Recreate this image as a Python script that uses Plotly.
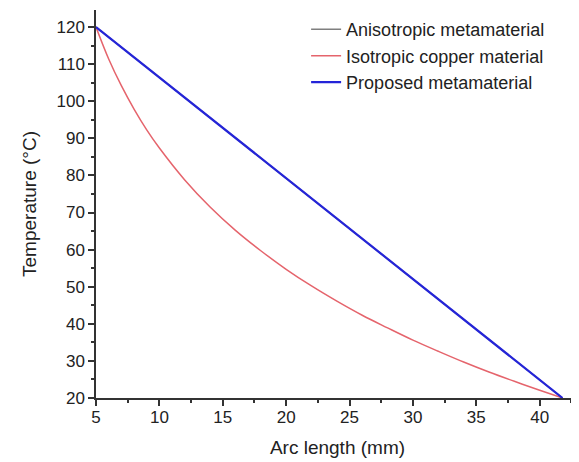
import plotly.graph_objects as go

# Data
aniso_x = [5, 41.8]
aniso_y = [120, 20]

copper_x = [5, 6, 7, 8, 9, 10, 12, 14, 16, 18, 20, 22, 24, 26, 28, 30, 32, 34, 36, 38, 40, 41.8]
copper_y = [120, 111.4, 104.2, 97.9, 92.3, 87.4, 78.8, 71.5, 65.2, 59.7, 54.7, 50.2, 46.1, 42.3, 38.9, 35.6, 32.6, 29.7, 27.0, 24.5, 22.1, 20]

proposed_x = [5, 41.8]
proposed_y = [120, 20]

x_ticks = [5, 10, 15, 20, 25, 30, 35, 40]
y_ticks = [20, 30, 40, 50, 60, 70, 80, 90, 100, 110, 120]

FONT = "Liberation Sans, Arial, sans-serif"

fig = go.Figure()
fig.add_trace(go.Scatter(x=aniso_x, y=aniso_y, mode="lines", name="Anisotropic metamaterial",
                         line=dict(color="#7f7f7f", width=1.5)))
fig.add_trace(go.Scatter(x=copper_x, y=copper_y, mode="lines", name="Isotropic copper material",
                         line=dict(color="#e5646c", width=1.5, shape="spline")))
fig.add_trace(go.Scatter(x=proposed_x, y=proposed_y, mode="lines", name="Proposed metamaterial",
                         line=dict(color="#2424d8", width=2.2)))

axis_common = dict(
    showline=True, linecolor="#333333", linewidth=1.5, mirror=False,
    ticks="outside", ticklen=6, tickwidth=1.5, tickcolor="#333333",
    showgrid=False, zeroline=False, automargin=False,
    tickfont=dict(family=FONT, size=17, color="#222222"),
    minor=dict(ticks="outside", ticklen=3, tickwidth=1.5, tickcolor="#333333", showgrid=False),
)

# The page body adds an 8px offset, so the figure is sized 8px smaller.
fig.update_layout(
    width=571, height=454,
    margin=dict(l=88, r=0, t=2, b=64),
    paper_bgcolor="white", plot_bgcolor="white",
    font=dict(family=FONT, color="#222222"),
    xaxis=dict(range=[5, 43.1], tickvals=x_ticks, ticklabelstandoff=-3,
               title=dict(text="Arc length (mm)", font=dict(family=FONT, size=19)),
               **axis_common),
    yaxis=dict(range=[20, 124.6], tickvals=y_ticks,
               title=dict(text="Temperature (°C)", font=dict(family=FONT, size=19)),
               **axis_common),
    legend=dict(x=0.435, y=0.997, xanchor="left", yanchor="top",
                bgcolor="rgba(0,0,0,0)", font=dict(family=FONT, size=18, color="#222222"),
                tracegroupgap=0, itemwidth=30),
    showlegend=True,
)
fig.update_xaxes(minor=dict(dtick=2.5, tick0=5))
fig.update_yaxes(minor=dict(dtick=5, tick0=20))

fig.write_html("out.html")
